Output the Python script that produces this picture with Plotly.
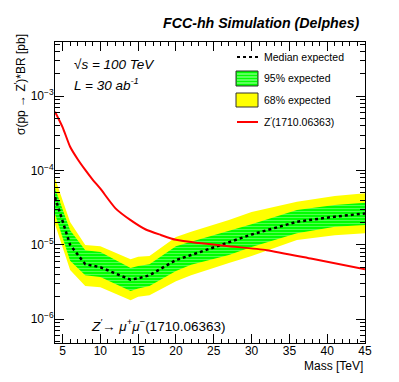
import plotly.graph_objects as go

# ---------------- data ----------------
mass = [4, 6, 8, 10, 14, 15, 16.5, 20, 22, 27, 30, 36, 41, 45]
median_exp = [4.4e-5, 1.0e-5, 5.5e-6, 5.0e-6, 3.4e-6, 3.55e-6, 3.9e-6, 6.25e-6,
              7.3e-6, 1.1e-5, 1.38e-5, 2.05e-5, 2.4e-5, 2.65e-5]
green_up = [5.8e-5, 1.58e-5, 8.5e-6, 8.0e-6, 4.9e-6, 5.2e-6, 5.5e-6, 9.6e-6,
            1.1e-5, 1.53e-5, 1.9e-5, 2.95e-5, 3.45e-5, 3.7e-5]
green_lo = [2.6e-5, 6.1e-6, 3.9e-6, 3.7e-6, 2.4e-6, 2.6e-6, 2.8e-6, 4.45e-6,
            5.4e-6, 7.3e-6, 9.4e-6, 1.43e-5, 1.75e-5, 1.85e-5]
yellow_up = [7.9e-5, 2.03e-5, 1.0e-5, 9.6e-6, 6.4e-6, 6.9e-6, 7.1e-6, 1.28e-5,
             1.5e-5, 2.16e-5, 2.77e-5, 3.8e-5, 4.55e-5, 4.95e-5]
yellow_lo = [1.9e-5, 4.6e-6, 2.8e-6, 2.7e-6, 1.8e-6, 2.0e-6, 2.1e-6, 3.25e-6,
             3.9e-6, 5.7e-6, 7.1e-6, 1.16e-5, 1.35e-5, 1.43e-5]

theory_mass = [4, 5, 6, 7, 8, 9, 10, 12, 14, 16, 18, 20, 23, 27, 32, 38, 45]
theory_xsec = [6.2e-4, 3.85e-4, 2.09e-4, 1.42e-4, 1.02e-4, 7.5e-5, 5.7e-5, 3.1e-5,
               2.15e-5, 1.61e-5, 1.36e-5, 1.17e-5, 1.06e-5, 9.6e-6, 8.5e-6, 6.5e-6, 4.7e-6]

x_tick_vals = [5, 10, 15, 20, 25, 30, 35, 40, 45]
y_tick_vals = [1e-6, 1e-5, 1e-4, 1e-3]
y_tick_text = ["10<sup>−6</sup>", "10<sup>−5</sup>", "10<sup>−4</sup>", "10<sup>−3</sup>"]
y_minor_vals = [m * d for d in (1e-7, 1e-6, 1e-5, 1e-4, 1e-3) for m in range(2, 10)]

legend_labels = ["Median expected", "95% expected", "68% expected", "Z<sup>′</sup>(1710.06363)"]

FONT = "Liberation Sans, Arial, Helvetica, sans-serif"
# the page body has an 8px default margin: the figure starts at screen (8, 8)
OFF = 8
SCR_W, SCR_H = 399, 382
PL, PT, PR, PB = 55, 42, 365, 343          # plot frame in screen pixels
W, H = SCR_W - OFF, SCR_H - OFF
ML, MT = PL - OFF, PT - OFF
MR, MB = W - (PR - OFF), H - (PB - OFF)
PW, PH = PR - PL, PB - PT


def px(xp):
    return (xp - PL) / PW


def py(yp):
    return (PB - yp) / PH


fig = go.Figure()

# yellow band
fig.add_trace(go.Scatter(
    x=mass + mass[::-1], y=yellow_up + yellow_lo[::-1],
    fill="toself", fillcolor="#ffff00", line=dict(width=0, color="#ffff00"),
    mode="lines", hoverinfo="skip", showlegend=False))
# green band
fig.add_trace(go.Scatter(
    x=mass + mass[::-1], y=green_up + green_lo[::-1],
    fill="toself", fillcolor="#00ff00",
    fillpattern=dict(shape="-", bgcolor="#00ff00", fgcolor="#b4ffb4", size=3, solidity=0.3),
    line=dict(width=0, color="#00ff00"),
    mode="lines", hoverinfo="skip", showlegend=False))
# median
fig.add_trace(go.Scatter(
    x=mass, y=median_exp, mode="lines",
    line=dict(color="black", width=2.5, dash="dot"), showlegend=False))
# theory
fig.add_trace(go.Scatter(
    x=theory_mass, y=theory_xsec, mode="lines",
    line=dict(color="#ff0000", width=2, shape="spline", smoothing=0.6), showlegend=False))

axis_common = dict(
    showline=True, linecolor="black", linewidth=1, mirror="allticks",
    ticks="inside", tickcolor="black", showgrid=False, zeroline=False,
    tickfont=dict(family=FONT, size=12, color="black"),
)

fig.update_xaxes(
    range=[4, 45], tickvals=x_tick_vals, ticklen=9, ticklabelstandoff=-3,
    minor=dict(dtick=1, tick0=0, ticklen=4, ticks="inside", tickcolor="black", showgrid=False),
    **axis_common)
fig.update_yaxes(
    type="log", range=[-6.32, -2.27], tickvals=y_tick_vals, ticktext=y_tick_text, ticklen=9,
    ticklabelstandoff=-2,
    minor=dict(tickvals=y_minor_vals, ticklen=5, ticks="inside", tickcolor="black", showgrid=False),
    **axis_common)

ann = []
ann.append(dict(text="<b><i>FCC-hh Simulation (Delphes)</i></b>", x=px(362), y=py(23),
                xanchor="right", yanchor="middle", font=dict(size=14.2)))
ann.append(dict(text="σ(pp → Z<sup>′</sup>)*BR [pb]", x=px(20), y=py(85), textangle=-90,
                xanchor="center", yanchor="middle", font=dict(size=12)))
ann.append(dict(text="Mass [TeV]", x=px(365), y=py(366),
                xanchor="right", yanchor="middle", font=dict(size=12)))
ann.append(dict(text="<i>√s = 100 TeV</i>", x=px(72), y=py(65),
                xanchor="left", yanchor="middle", font=dict(size=13.5)))
ann.append(dict(text="<i>L = 30 ab<sup>-1</sup></i>", x=px(72), y=py(84),
                xanchor="left", yanchor="middle", font=dict(size=13.5)))
ann.append(dict(text="<i>Z<sup>′</sup>→ μ<sup>+</sup>μ<sup>−</sup></i>(1710.06363)", x=px(89), y=py(325),
                xanchor="left", yanchor="middle", font=dict(size=13.5)))

leg_y = [57, 78.5, 100, 122]
for lbl, ly in zip(legend_labels, leg_y):
    ann.append(dict(text=lbl, x=px(262), y=py(ly), xanchor="left", yanchor="middle",
                    font=dict(size=10.5)))
for a in ann:
    a.update(xref="paper", yref="paper", showarrow=False)
    a["font"].update(family=FONT, color="black")

shapes = [
    dict(type="line", x0=px(237), x1=px(258), y0=py(57), y1=py(57),
         line=dict(color="black", width=2, dash="dot")),
    dict(type="rect", x0=px(236), x1=px(258), y0=py(86), y1=py(71),
         fillcolor="#00ff00", line=dict(color="#333333", width=1)),
    dict(type="rect", x0=px(236), x1=px(258), y0=py(107), y1=py(93),
         fillcolor="#ffff00", line=dict(color="#333333", width=1)),
    dict(type="line", x0=px(237), x1=px(258), y0=py(122), y1=py(122),
         line=dict(color="#ff0000", width=2)),
]
for yy in [74, 77, 80, 83]:
    shapes.append(dict(type="line", x0=px(237), x1=px(257), y0=py(yy), y1=py(yy),
                       line=dict(color="#b4ffb4", width=1)))
for s in shapes:
    s.update(xref="paper", yref="paper")

fig.update_layout(
    width=W, height=H, margin=dict(l=ML, r=MR, t=MT, b=MB, autoexpand=False),
    paper_bgcolor="white", plot_bgcolor="white",
    font=dict(family=FONT, size=12, color="black"),
    annotations=ann, shapes=shapes, showlegend=False,
)

fig.write_html("out.html")
